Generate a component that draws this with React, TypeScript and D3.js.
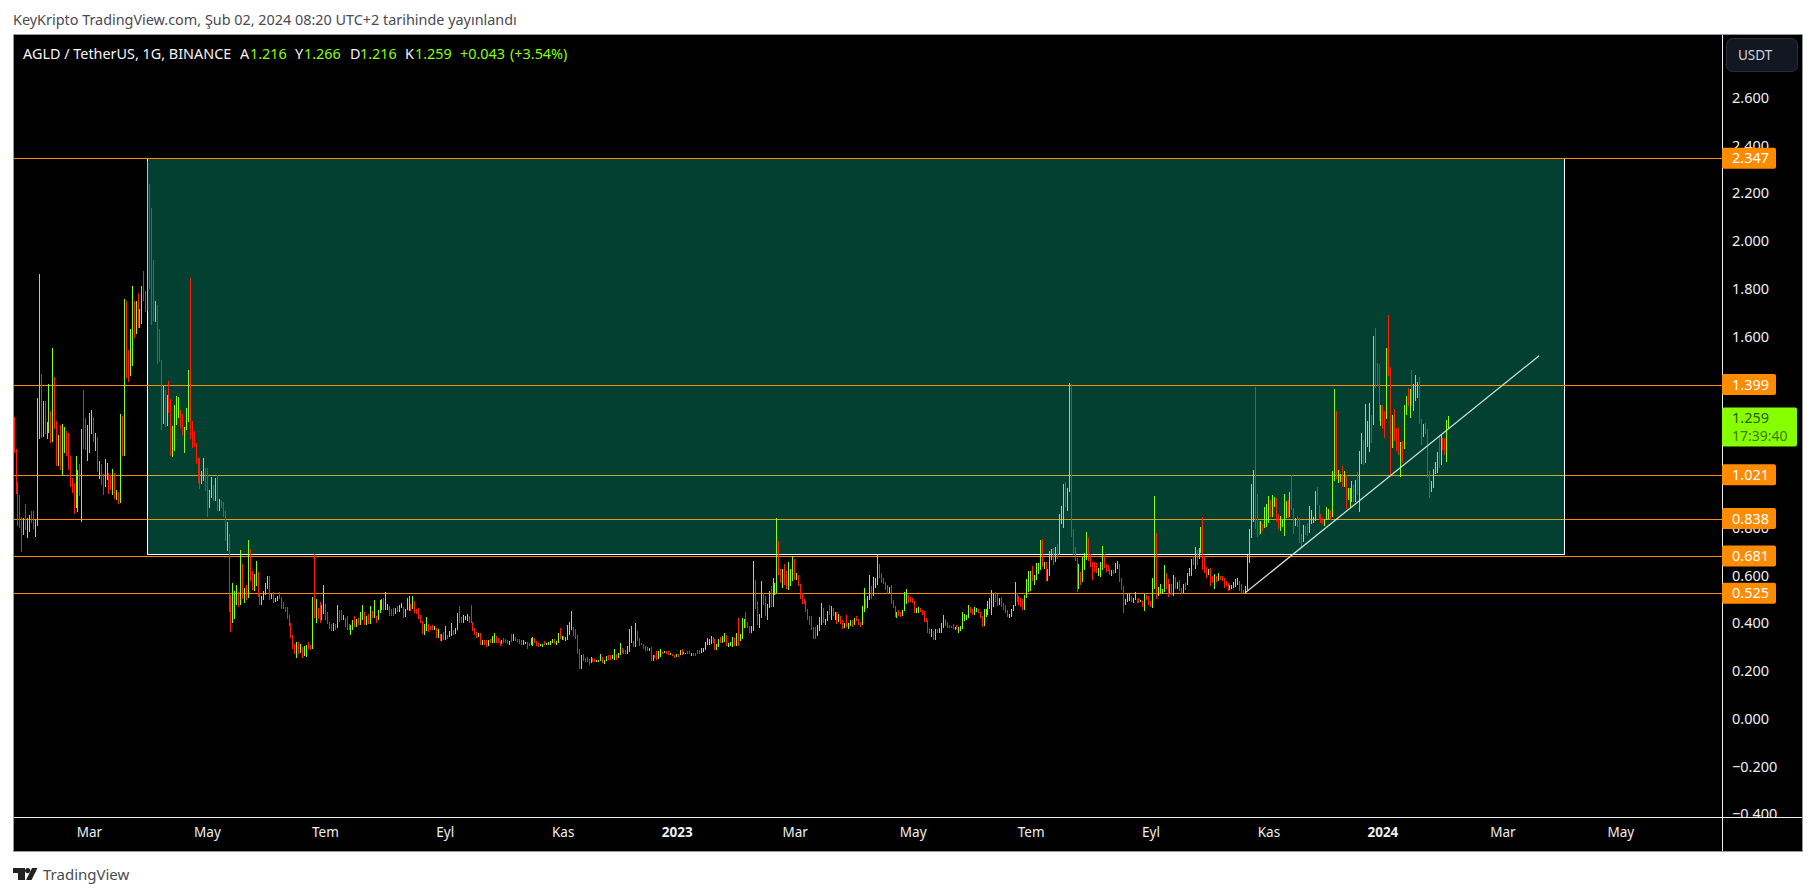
import * as d3 from "d3";
import { useEffect, useRef } from "react";

const highs = [
  1.265,1.129,.991,.937,.843,.839,.899,.839,.853,.870,
  .870,.832,1.341,1.861,1.443,1.330,1.330,1.242,1.400,1.288,
  1.551,1.429,1.247,1.188,1.230,1.234,1.221,1.205,1.196,1.100,
  1.009,.986,1.100,1.041,1.067,1.213,1.376,1.259,1.230,1.280,
  1.291,1.263,1.196,1.178,1.078,1.067,1.025,1.087,1.071,1.029,
  1.020,1.045,1.029,.958,.949,1.276,1.268,1.757,1.749,1.544,
  1.632,1.812,1.749,1.749,1.781,1.716,1.812,1.875,1.791,2.335,
  2.239,2.139,1.921,1.749,1.732,1.632,1.502,1.393,1.376,1.355,
  1.414,1.339,1.226,1.314,1.351,1.347,1.293,1.276,1.221,1.301,
  1.460,1.845,1.247,1.205,1.155,1.092,1.092,1.037,1.092,1.050,
  1.050,.958,1.012,.979,1.008,1.020,.920,.916,.907,.870,
  .824,.773,.518,.568,.535,.560,.530,.706,.648,.547,
  .560,.748,.711,.618,
  .606,.660,.614,.522,.514,.535,.568,.597,.597,.522,
  .530,.505,.514,.530,.509,.488,.468,.468,.434,.400,
  .350,.313,.321,.321,.313,.300,.304,.308,.321,.308,
  .509,.691,.501,.463,.488,.476,.560,.480,.447,.405,
  .396,.400,.396,.476,.455,.455,.434,.421,.430,.396,
  .392,.413,.430,.417,.421,.447,.476,.447,.430,.438,
  .472,.451,.497,.430,.455,.497,.501,.505,.530,.480,
  .472,.459,.463,.463,.472,.476,.484,.468,.459,.505,
  .514,.480,.514,.493,.459,.463,.434,.409,.396,.426,
  .396,.388,.392,.388,.380,.375,.354,.354,.363,.388,
  .350,.367,.400,.371,.380,.442,.472,.426,.434,.430,
  .438,.430,.476,.405,.380,.363,.359,.359,.329,.329,
  .329,.329,.334,.346,.359,.346,.338,.325,.329,.338,
  .334,.329,.325,
  .354,.354,.342,.333,.333,.329,.329,.321,.321,.317,
  .338,.342,.338,.325,.317,.312,.312,.325,.317,.321,
  .325,.333,.333,.325,.358,.379,.346,.346,.342,.392,
  .405,.451,.384,.375,.350,.292,.266,.271,.254,.258,
  .250,.258,.254,.250,.245,.245,.271,.258,.245,.262,
  .266,.266,.266,.292,.271,.275,.317,.296,.287,.287,
  .304,.375,.388,.325,.400,.367,.338,.317,.312,.304,
  .300,.296,.300,.266,.266,.283,.283,.292,.279,.283,
  .283,.283,.275,.271,.266,.271,.271,.287,.292,.279,
  .275,.283,.283,.275,.275,.275,.287,.287,.296,.296,
  .321,.338,.333,.346,.342,.333,.312,.333,.342,.346,
  .358,.350,.317,.321,.342,.338,.358,.421,.354,.421,
  .417,.447,.405,.388,.388,.660,.580,.493,.438,.576,
  .526,.514,.480,.534,
  .556,.589,.568,.840,.744,.627,.627,.648,.618,.656,
  .627,.681,.669,.610,.602,.564,.526,.501,.493,.459,
  .430,.430,.384,.384,.392,.426,.484,.464,.418,.451,
  .476,.472,.464,.447,.447,.438,.430,.413,.401,.434,
  .401,.413,.413,.422,.430,.418,.405,.472,.547,.501,
  .514,.602,.556,.593,.589,.690,.648,.610,.589,.572,
  .560,.552,.560,.497,.472,.447,.455,.447,.455,.531,
  .543,.518,.510,.505,.493,.464,.468,.464,.455,.451,.422,
  .413,.380,.376,.367,.376,.376,.380,.401,.434,.418,
  .405,.392,.388,.397,.384,.392,.384,.388,.447,.438,
  .434,.476,.468,.459,.468,.464,.459,.447,.430,.459,
  .459,.493,.505,.539,.522,.531,.522,.505,.510,.485,
  .476,.455,.438,.459,.476,.572,.526,.514,.505,.501,
  .518,.585,.618,.618,
  .639,.601,.652,.652,.748,.752,.656,.656,.627,.702,
  .710,.715,.719,.731,.857,.890,.983,.991,.966,1.406,
  1.401,.794,.719,.673,.648,.614,.677,.694,.782,.756,
  .689,.656,.656,.652,.631,.656,.723,.689,.648,.643,
  .627,.622,.622,.652,.660,.648,.589,.555,.501,.522,
  .522,.514,.505,.530,.501,.505,.497,.493,.522,.518,
  .514,.493,.589,.932,.777,.551,.564,.543,.643,.610,
  .585,.564,.564,.601,.593,.572,.581,.547,.564,.568,
  .610,.631,.668,.681,.719,.706,.715,.803,.844,.681,
  .635,.627,.631,.597,.606,.597,.610,.597,.597,.589,
  .576,.568,.560,.560,.572,.585,.589,.576,.564,.539,
  .555,
  .686,.794,.983,1.041,1.389,.941,.828,.828,.815,.886,
  .899,.932,.916,.937,.928,.924,.857,.849,.832,.941,
  .912,.916,.949,1.020,.882,.840,.849,.840,.773,.811,
  .807,.819,.891,.874,.845,.953,.970,.895,.857,.840,
  .832,.886,.878,.874,1.037,1.381,1.288,1.041,1.025,1.058,
  1.037,1.020,.966,.966,.995,.979,1.000,1.033,1.121,1.196,
  1.167,1.318,1.247,1.322,1.272,1.603,1.636,1.489,1.485,1.314,
  1.314,1.288,1.552,1.690,1.473,1.272,1.297,1.217,1.221,1.159,
  1.163,1.314,1.351,1.385,1.381,1.460,1.402,1.439,1.410,1.431,
  1.255,1.234,1.238,1.213,1.037,.995,1.046,1.075,1.117,1.188,
  1.192,1.175,1.175,1.251,1.266,
];

const lows = [
  1.111,.941,.808,.800,.699,.769,.790,.758,.782,.821,
  .794,.762,.808,1.173,1.174,1.181,1.192,1.173,1.195,1.153,
  1.159,1.214,1.060,1.058,1.041,1.020,1.114,1.101,1.041,.972,
  .946,.857,.884,.867,.934,.825,1.129,1.127,1.080,1.114,
  1.192,1.159,1.121,1.033,1.004,.979,.937,.972,.999,.941,
  .958,.937,.920,.916,.899,.905,1.101,1.101,1.427,1.410,
  1.435,1.477,1.594,1.611,1.636,1.636,1.653,1.749,1.703,1.707,
  1.799,1.649,1.665,1.661,1.485,1.494,1.209,1.234,1.221,1.226,
  1.279,1.101,1.096,1.121,1.230,1.259,1.217,1.188,1.113,1.209,
  1.242,1.171,1.135,1.139,1.067,.987,.962,.983,.995,.953,
  .845,.882,.924,.911,.911,.870,.870,.882,.845,.744,
  .702,.447,.363,.401,.417,.476,.468,.476,.501,.484,
  .497,.505,.577,.539,
  .535,.556,.509,.476,.476,.497,.518,.543,.497,.501,
  .484,.488,.493,.501,.459,.459,.447,.417,.388,.338,
  .292,.271,.254,.271,.275,.254,.262,.258,.292,.287,
  .292,.421,.401,.417,.401,.413,.438,.413,.396,.375,
  .367,.367,.371,.380,.405,.413,.413,.384,.371,.371,
  .350,.371,.384,.384,.392,.392,.413,.392,.392,.396,
  .396,.421,.421,.400,.413,.442,.455,.455,.455,.455,
  .430,.430,.430,.438,.447,.447,.463,.421,.426,.455,
  .451,.451,.459,.442,.438,.417,.400,.354,.350,.367,
  .363,.371,.371,.371,.338,.338,.325,.325,.329,.329,
  .334,.342,.346,.350,.354,.371,.400,.400,.400,.413,
  .409,.400,.400,.367,.350,.338,.342,.308,.308,.308,
  .300,.304,.317,.317,.317,.317,.317,.304,.313,.317,
  .317,.313,.308,
  .321,.325,.325,.321,.312,.308,.308,.312,.292,.304,
  .308,.304,.317,.304,.300,.304,.300,.308,.308,.308,
  .308,.317,.312,.308,.317,.333,.329,.329,.325,.329,
  .350,.371,.346,.333,.275,.208,.208,.241,.237,.237,
  .225,.233,.237,.237,.237,.237,.241,.233,.229,.241,
  .245,.245,.250,.245,.245,.254,.266,.275,.271,.271,
  .271,.279,.317,.300,.300,.325,.304,.308,.292,.283,
  .283,.283,.241,.241,.254,.245,.250,.258,.271,.275,
  .271,.266,.266,.262,.254,.258,.258,.266,.266,.271,
  .271,.271,.271,.262,.262,.262,.271,.271,.275,.279,
  .287,.308,.308,.312,.317,.287,.287,.300,.317,.317,
  .321,.304,.300,.304,.300,.304,.304,.304,.325,.333,
  .379,.379,.379,.358,.358,.367,.459,.392,.379,.421,
  .476,.430,.413,.463,
  .468,.468,.518,.526,.602,.568,.547,.560,.543,.539,
  .556,.577,.581,.581,.556,.501,.480,.480,.447,.413,
  .392,.371,.334,.334,.346,.367,.392,.401,.392,.409,
  .434,.413,.430,.413,.397,.405,.397,.376,.380,.384,
  .376,.388,.384,.392,.409,.392,.384,.392,.447,.459,
  .464,.497,.501,.514,.547,.560,.589,.568,.564,.539,
  .522,.526,.480,.464,.426,.422,.430,.426,.430,.451,
  .480,.485,.487,.485,.443,.443,.443,.447,.434,.405,.405,
  .359,.355,.342,.330,.330,.359,.359,.359,.380,.388,
  .380,.380,.380,.376,.371,.376,.359,.367,.376,.409,
  .413,.422,.443,.434,.434,.447,.443,.422,.384,.388,
  .426,.434,.459,.434,.468,.489,.472,.476,.468,.455,
  .443,.426,.422,.426,.451,.472,.489,.476,.468,.455,
  .455,.505,.531,.535,
  .576,.560,.581,.606,.622,.635,.627,.576,.576,.597,
  .664,.643,.656,.669,.685,.815,.798,.886,.870,.949,
  .761,.685,.660,.530,.543,.560,.572,.622,.664,.660,
  .635,.581,.614,.610,.597,.593,.622,.631,.614,.618,
  .602,.597,.606,.610,.627,.572,.539,.442,.476,.488,
  .493,.488,.484,.497,.484,.484,.488,.467,.451,.497,
  .476,.467,.463,.543,.501,.514,.526,.526,.530,.543,
  .509,.522,.518,.514,.543,.543,.534,.522,.526,.539,
  .560,.597,.597,.643,.627,.643,.668,.694,.622,.610,
  .589,.601,.555,.568,.543,.572,.576,.581,.576,.547,
  .555,.534,.539,.543,.547,.551,.560,.534,.526,.526,
  .526,
  .539,.652,.757,.824,.794,.761,.769,.773,.786,.798,
  .803,.820,.845,.845,.887,.824,.794,.786,.803,.765,
  .840,.840,.845,.874,.773,.807,.803,.736,.719,.740,
  .769,.765,.778,.815,.820,.828,.895,.832,.820,.815,
  .807,.832,.836,.832,.845,.995,1.004,.987,.991,.970,
  .970,.878,.916,.886,.907,.907,.907,.937,.866,1.067,
  1.062,1.071,1.138,1.117,1.154,1.230,1.385,1.393,1.247,1.226,
  1.213,1.175,1.255,1.435,1.020,1.134,1.163,1.121,1.104,1.012,
  1.071,1.129,1.272,1.310,1.259,1.310,1.289,1.330,1.343,1.234,
  1.146,1.180,1.192,1.008,.924,.949,.966,1.025,1.029,1.050,
  1.062,1.125,1.104,1.075,1.216,
];

// u = close above open, d = close below open
const directions = [
  "ddddduduud","duuududuud","udduduuddd","dduududduu","udududduud",
  "dududududd","uududuuddu","dddudddudu","dduuuudduu","udddddduud",
  "duudududdd","udduuududu","dudd",
  "uudduuuudu","duuddddddd","ddududuudd","ududduuddd","dududduddd",
  "uududuudud","ududuuuduu","ddduduuduu","ududdddduu","dddudududu",
  "duuduudduu","udddddudud","duduudddud","ddu",
  "dudddduudd","uuddduuduu","uuduududuu","uudddduddd","dudduuuduu",
  "dduuduuddd","uuududdddd","dududduudu","dduddududu","uddudddduu",
  "uuuudduudu","uduuududuu","uddduudduu","dduu",
  "duuudduddu","uududddddd","dddduuuduu","dudududdud","uududdduud",
  "uuduuudddd","duddduddu" + "u","udddduudddd","ddududuuud","dddduduuuu",
  "uudduudddu","uuuuuddudd","dduuuudddd","uuuu",
  "duuuududuu","ududuuuduu","dddduduuud","dddduuuddd","duduuddduu",
  "uduuddudud","dduuduuuud","dudududdud","uuududuudd","duddududdd",
  "dduuuuuddd","u",
  "uuuudddudu","uuduudduuu","ududdudddu","dduuuudddd","uuuduuduud",
  "uduuududuu","duuududddu","dduddudddu","duududuuud","duddduuuud",
  "udduu",
].join("");

const levels = [2.347, 1.399, 1.021, 0.838, 0.681, 0.525];
const levelsOverBox = [
  { value: 2.347, opacity: 1 },
  { value: 1.399, opacity: 1 },
  { value: 0.838, opacity: 0.35 },
];

// 1.400, 1.200 and 1.000 sit fully under the price tags in the original
const priceTicks = [2.6, 2.4, 2.2, 2.0, 1.8, 1.6, 0.8, 0.6, 0.4, 0.2, 0, -0.2, -0.4];

const timeTicks = [
  { date: Date.UTC(2022, 2, 1), label: "Mar" },
  { date: Date.UTC(2022, 4, 1), label: "May" },
  { date: Date.UTC(2022, 6, 1), label: "Tem" },
  { date: Date.UTC(2022, 8, 1), label: "Eyl" },
  { date: Date.UTC(2022, 10, 1), label: "Kas" },
  { date: Date.UTC(2023, 0, 1), label: "2023" },
  { date: Date.UTC(2023, 2, 1), label: "Mar" },
  { date: Date.UTC(2023, 4, 1), label: "May" },
  { date: Date.UTC(2023, 6, 1), label: "Tem" },
  { date: Date.UTC(2023, 8, 1), label: "Eyl" },
  { date: Date.UTC(2023, 10, 1), label: "Kas" },
  { date: Date.UTC(2024, 0, 1), label: "2024" },
  { date: Date.UTC(2024, 2, 1), label: "Mar" },
  { date: Date.UTC(2024, 4, 1), label: "May" },
];

const firstDay = Date.UTC(2022, 0, 21);
const lastDay = Date.UTC(2024, 1, 2);
const boxDates = [Date.UTC(2022, 2, 31), Date.UTC(2024, 3, 2)];
const boxPrices = [2.347, 0.688];
const trendDates = [Date.UTC(2023, 9, 20), Date.UTC(2024, 2, 20)];
const trendPrices = [0.527, 1.52];

const legendParts = [
  { x: 23, text: "AGLD / TetherUS, 1G, BINANCE", up: false },
  { x: 240, text: "A", up: false },
  { x: 250, text: "1.216", up: true },
  { x: 295, text: "Y", up: false },
  { x: 304, text: "1.266", up: true },
  { x: 350, text: "D", up: false },
  { x: 360, text: "1.216", up: true },
  { x: 405, text: "K", up: false },
  { x: 415, text: "1.259", up: true },
  { x: 460, text: "+0.043", up: true },
  { x: 510, text: "(+3.54%)", up: true },
];

const UP = "#88ff00";
const DOWN = "#ff1e00";
const ORANGE = "#ff8c00";
const FONT = "'Noto Sans', sans-serif";

const App: React.FC = () => {
  const chartRef = useRef<SVGSVGElement | null>(null);

  useEffect(() => {
    if (!chartRef.current) return;
    const svg = d3.select(chartRef.current);
    svg.selectAll("*").remove();

    const plot = { left: 13, right: 1722, top: 34, bottom: 817, outerRight: 1802, outerBottom: 851 };

    const y = d3.scaleLinear().domain([-0.4, 2.6]).range([814.2, 97.8]);
    const time = d3
      .scaleUtc()
      .domain([Date.UTC(2022, 2, 1), Date.UTC(2024, 2, 1)])
      .range([89, 1502.4]);
    const x = d3
      .scaleLinear()
      .domain([0, highs.length - 1])
      .range([time(firstDay), time(lastDay)]);

    const crisp = (v: number) => Math.round(v) + 0.5;

    svg
      .append("rect")
      .attr("x", plot.left)
      .attr("y", plot.top)
      .attr("width", plot.outerRight - plot.left)
      .attr("height", plot.outerBottom - plot.top)
      .attr("fill", "#000");

    svg
      .append("text")
      .attr("x", 13)
      .attr("y", 24.5)
      .attr("font-size", 14.4)
      .attr("font-family", FONT)
      .attr("fill", "#4a4a4f")
      .text("KeyKripto TradingView.com, Şub 02, 2024 08:20 UTC+2 tarihinde yayınlandı");

    const levelLines = svg.append("g").attr("shape-rendering", "crispEdges");
    levelLines
      .selectAll("line")
      .data(levels)
      .join("line")
      .attr("x1", plot.left)
      .attr("x2", plot.right)
      .attr("y1", (d) => crisp(y(d)))
      .attr("y2", (d) => crisp(y(d)))
      .attr("stroke", ORANGE);

    // green range box, see-through so the lines under it turn olive
    const boxX = boxDates.map((d) => crisp(time(d)));
    const boxY = boxPrices.map((d) => crisp(y(d)));
    svg
      .append("rect")
      .attr("x", boxX[0])
      .attr("y", boxY[0])
      .attr("width", boxX[1] - boxX[0])
      .attr("height", boxY[1] - boxY[0])
      .attr("fill", "rgba(12,255,200,0.25)")
      .attr("stroke", "#fff")
      .attr("stroke-width", 1)
      .attr("shape-rendering", "crispEdges");

    svg
      .append("g")
      .attr("shape-rendering", "crispEdges")
      .selectAll("line")
      .data(levelsOverBox)
      .join("line")
      .attr("x1", plot.left)
      .attr("x2", plot.right)
      .attr("y1", (d) => crisp(y(d.value)))
      .attr("y2", (d) => crisp(y(d.value)))
      .attr("stroke", ORANGE)
      .attr("stroke-opacity", (d) => d.opacity);

    // bars
    svg
      .append("g")
      .attr("shape-rendering", "crispEdges")
      .selectAll("line")
      .data(highs)
      .join("line")
      .attr("x1", (_, i) => crisp(x(i)))
      .attr("x2", (_, i) => crisp(x(i)))
      .attr("y1", (d) => y(d))
      .attr("y2", (_, i) => y(lows[i]))
      .attr("stroke", (_, i) => (directions[i] === "u" ? UP : DOWN))
      .attr("stroke-width", 1);

    svg
      .append("line")
      .attr("x1", time(trendDates[0]))
      .attr("y1", y(trendPrices[0]))
      .attr("x2", time(trendDates[1]))
      .attr("y2", y(trendPrices[1]))
      .attr("stroke", "#cfe8e0")
      .attr("stroke-width", 1.2);

    // legend
    svg
      .append("g")
      .attr("font-family", FONT)
      .attr("font-size", 14.4)
      .selectAll("text")
      .data(legendParts)
      .join("text")
      .attr("x", (d) => d.x)
      .attr("y", 59)
      .attr("fill", (d) => (d.up ? UP : "#f5f5f5"))
      .text((d) => d.text);

    // price axis
    svg
      .append("clipPath")
      .attr("id", "price-clip")
      .append("rect")
      .attr("x", plot.right)
      .attr("y", plot.top)
      .attr("width", plot.outerRight - plot.right)
      .attr("height", plot.bottom - plot.top);

    const priceAxis = svg
      .append("g")
      .attr("clip-path", "url(#price-clip)")
      .append("g")
      .attr("transform", `translate(${plot.right},0)`)
      .call(d3.axisRight(y).tickValues(priceTicks).tickSize(0).tickPadding(10).tickFormat(d3.format(".3f") as any));
    priceAxis.select(".domain").remove();
    priceAxis.selectAll("text").attr("fill", "#f0f0f0").attr("font-size", 14.5).attr("font-family", FONT);

    svg
      .append("line")
      .attr("x1", crisp(plot.right))
      .attr("x2", crisp(plot.right))
      .attr("y1", plot.top)
      .attr("y2", plot.outerBottom)
      .attr("stroke", "#f0f0f0")
      .attr("shape-rendering", "crispEdges");

    // time axis
    const timeAxis = svg
      .append("g")
      .attr("transform", `translate(0,${plot.bottom})`)
      .call(
        d3
          .axisBottom(time)
          .tickValues(timeTicks.map((d) => d.date) as any)
          .tickSize(0)
          .tickPadding(10)
          .tickFormat((_, i) => timeTicks[i].label)
      );
    timeAxis.select(".domain").remove();
    timeAxis
      .selectAll("text")
      .attr("fill", "#f0f0f0")
      .attr("font-size", 13.5)
      .attr("font-family", FONT)
      .attr("dx", (_, i) => (timeTicks[i].label.startsWith("20") ? -4 : 0))
      .attr("font-weight", (_, i) => (timeTicks[i].label.startsWith("20") ? 700 : 400));

    svg
      .append("line")
      .attr("x1", plot.left)
      .attr("x2", plot.outerRight)
      .attr("y1", crisp(plot.bottom))
      .attr("y2", crisp(plot.bottom))
      .attr("stroke", "#f0f0f0")
      .attr("shape-rendering", "crispEdges");

    // outer frame
    svg
      .append("rect")
      .attr("x", crisp(plot.left))
      .attr("y", crisp(plot.top))
      .attr("width", plot.outerRight - plot.left)
      .attr("height", plot.outerBottom - plot.top)
      .attr("fill", "none")
      .attr("stroke", "#9598a1")
      .attr("shape-rendering", "crispEdges");

    // level tags on the price scale
    const tags = svg.append("g").selectAll("g").data(levels).join("g");
    tags
      .append("rect")
      .attr("x", plot.right)
      .attr("y", (d) => y(d) - 10.5)
      .attr("width", 54)
      .attr("height", 21)
      .attr("rx", 2)
      .attr("fill", ORANGE);
    tags
      .append("text")
      .attr("x", plot.right + 10)
      .attr("y", (d) => y(d) + 5)
      .attr("font-size", 14.5)
      .attr("font-family", FONT)
      .attr("fill", "#fff")
      .text((d) => d3.format(".3f")(d));

    // last price tag
    const lastPrice = 1.259;
    svg
      .append("rect")
      .attr("x", plot.right)
      .attr("y", y(lastPrice) - 10.5)
      .attr("width", 75)
      .attr("height", 39)
      .attr("rx", 2)
      .attr("fill", UP);
    svg
      .append("text")
      .attr("x", plot.right + 10)
      .attr("y", y(lastPrice) + 5)
      .attr("font-size", 14.5)
      .attr("font-family", FONT)
      .attr("fill", "#2f5c00")
      .text(d3.format(".3f")(lastPrice));
    svg
      .append("text")
      .attr("x", plot.right + 10)
      .attr("y", y(lastPrice) + 23)
      .attr("font-size", 14)
      .attr("font-family", FONT)
      .attr("fill", "#3f7a00")
      .text("17:39:40");

    // currency button
    svg
      .append("rect")
      .attr("x", 1726.5)
      .attr("y", 38.5)
      .attr("width", 71)
      .attr("height", 33)
      .attr("rx", 6)
      .attr("fill", "#131722")
      .attr("stroke", "#2a2e39");
    svg
      .append("text")
      .attr("x", 1738)
      .attr("y", 60)
      .attr("font-size", 13.5)
      .attr("font-family", FONT)
      .attr("fill", "#d1d4dc")
      .text("USDT");

    // footer logo
    const logo = svg.append("g").attr("fill", "#222").attr("transform", "translate(13,868)");
    logo.append("path").attr("d", "M0 0H12V12H5V5H0Z");
    logo.append("circle").attr("cx", 14.7).attr("cy", 2.6).attr("r", 2.6);
    logo.append("path").attr("d", "M19 0H24.5L18.5 12H13Z");
    svg
      .append("text")
      .attr("x", 43)
      .attr("y", 880)
      .attr("font-size", 15)
      .attr("font-family", FONT)
      .attr("fill", "#4a4a4f")
      .text("TradingView");
  }, []);

  return (
    <svg
      ref={chartRef}
      width={1815}
      height={896}
      style={{ position: "absolute", left: 0, top: 0, display: "block", background: "#fff" }}
    ></svg>
  );
};

export default App;
